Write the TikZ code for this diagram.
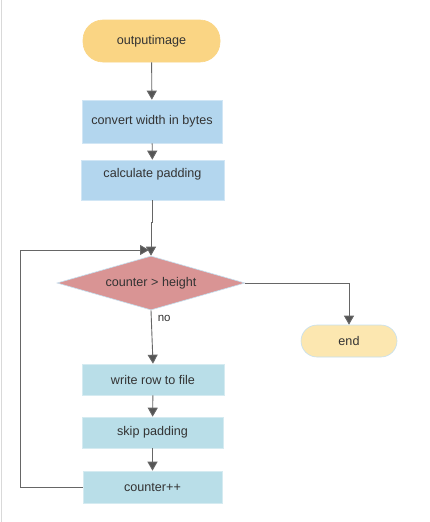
\documentclass[tikz,border=0pt]{standalone}
\usepackage{fontspec}
\setmainfont{Liberation Sans}
\usetikzlibrary{shapes.geometric,arrows.meta}
\definecolor{startfill}{HTML}{FAD584}
\definecolor{endfill}{HTML}{FCE7B0}
\definecolor{topbox}{HTML}{B3D6EE}
\definecolor{loopbox}{HTML}{B9DEE8}
\definecolor{decfill}{HTML}{D99494}
\definecolor{edgeblue}{HTML}{C5E0F0}
\definecolor{linegray}{HTML}{666666}
\definecolor{tipgray}{HTML}{555555}
\definecolor{txt}{HTML}{333333}
\tikzset{
  x=1pt, y=-1pt,
  base/.style={font=\fontsize{12.6}{15}\selectfont, text=txt, inner sep=0pt},
  terminal/.style={base, rounded corners=16pt, draw=edgeblue, line width=0.6pt},
  procbox/.style={base, draw=edgeblue, line width=0.6pt},
  decision/.style={base, diamond, aspect=3.48, fill=decfill, draw=edgeblue, line width=0.6pt},
  flow/.style={draw=linegray, line width=0.9pt, -{Triangle[length=9pt,width=10pt,fill=tipgray]}},
  plain/.style={draw=linegray, line width=0.9pt},
}
\begin{document}
\begin{tikzpicture}
\useasboundingbox (0,0) rectangle (430,522);
\fill[white] (0,0) rectangle (430,522);
\draw[black!15, line width=0.8pt] (1,0) -- (1,522);

% start / end terminals
\node[terminal, fill=startfill, draw=startfill, minimum width=137pt, minimum height=42pt, rounded corners=20pt] (start) at (151.5,41) {outputimage};
\node[terminal, fill=endfill, minimum width=96pt, minimum height=32pt] (stop) at (349,341) {end};

% preparation steps
\node[procbox, fill=topbox, draw=topbox!60!white, minimum width=140pt, minimum height=43pt] (conv) at (152,121.5) {convert width in bytes};
\node[procbox, fill=topbox, draw=topbox!60!white, minimum width=143pt, minimum height=40pt, text height=14pt, text depth=20pt] (pad) at (152.5,180) {calculate padding};

% loop test
\node[decision, minimum width=188pt, minimum height=54pt] (test) at (151,283) {counter > height};

% loop body
\node[procbox, fill=loopbox, draw=loopbox!60!white, minimum width=142pt, minimum height=31pt] (write) at (153,379.5) {write row to file};
\node[procbox, fill=loopbox, draw=loopbox!60!white, minimum width=141pt, minimum height=31pt] (skip) at (152.5,432.5) {skip padding};
\node[procbox, fill=loopbox, draw=loopbox!60!white, minimum width=139pt, minimum height=32pt] (count) at (152.5,487) {counter++};

% connectors
\draw[flow] (start) -- (conv);
\draw[flow] (conv) -- (pad);
\coordinate (jog) at (151,222);
\draw[flow] (pad.south) ++(-0.5,0) coordinate (padout) (padout) -- (padout |- jog) -- (jog) -- (test.north);
\draw[flow] (test.east) -| (stop.north);
\draw[flow] (test.south) -- node[base, right=6pt, pos=0.15, font=\fontsize{11.5}{13}\selectfont] (nolabel) {no} (write.north);
\draw[flow] (write) -- (skip);
\draw[flow] (skip) -- (count);
\coordinate (loopcorner) at (20,250);
\coordinate (loopin) at (149,250);
\draw[flow] (count.west) -| (loopcorner) -- (loopin);
\end{tikzpicture}
\end{document}
